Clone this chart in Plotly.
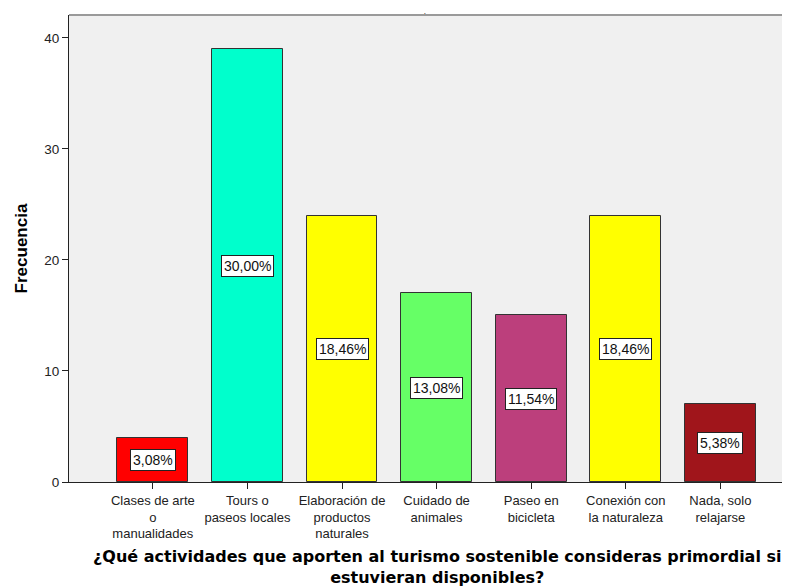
import plotly.graph_objects as go

categories = [
    "Clases de arte<br>o<br>manualidades",
    "Tours o<br>paseos locales",
    "Elaboración de<br>productos<br>naturales",
    "Cuidado de<br>animales",
    "Paseo en<br>bicicleta",
    "Conexión con<br>la naturaleza",
    "Nada, solo<br>relajarse",
]
frequencies = [4, 39, 24, 17, 15, 24, 7]
percent_labels = ["3,08%", "30,00%", "18,46%", "13,08%", "11,54%", "18,46%", "5,38%"]
bar_colors = ["#FF0000", "#00FFCC", "#FFFF00", "#66FF66", "#BC3F7C", "#FFFF00", "#A0151B"]
y_ticks = [0, 10, 20, 30, 40]
x_title = ("¿Qué actividades que aporten al turismo sostenible consideras primordial si"
           "<br>estuvieran disponibles?")

xs = list(range(len(categories)))

fig = go.Figure()
fig.add_trace(go.Bar(
    x=xs, y=frequencies, width=0.75,
    marker=dict(color=bar_colors, line=dict(color="#333333", width=1)),
    hoverinfo="skip",
))

for xi, v, lab in zip(xs, frequencies, percent_labels):
    fig.add_annotation(
        x=xi, y=v / 2, text=lab, showarrow=False,
        font=dict(family="Liberation Sans, Arial", size=14, color="#111111"),
        bgcolor="white", bordercolor="#222222", borderwidth=1, borderpad=2,
    )

# x axis title
fig.add_annotation(
    xref="paper", yref="paper", x=0.511, y=-0.182,
    xanchor="center", yanchor="middle", text=x_title, showarrow=False,
    font=dict(family="DejaVu Sans", size=16, color="#000000", weight="bold"),
)

# top border of the plot frame
fig.add_shape(type="line", xref="paper", yref="paper", x0=0, x1=1, y0=1, y1=1,
              line=dict(color="#9A9A9A", width=2))

# page body adds an 8px margin, so the figure is 8px smaller and shifted
fig.update_layout(
    width=782, height=578,
    margin=dict(l=61, r=0, t=7, b=104),
    paper_bgcolor="white", plot_bgcolor="#F0F0F0",
    showlegend=False,
    bargap=0,
    title=dict(text=".", x=0.533, xanchor="center", y=1.0, yanchor="top",
               pad=dict(t=0, b=0),
               font=dict(family="Liberation Sans, Arial", size=8, color="#000000")),
    xaxis=dict(
        automargin=False,
        range=[-0.886, 6.736],
        tickmode="array", tickvals=xs, ticktext=categories,
        ticks="outside", ticklen=6, tickcolor="#222222", tickwidth=1,
        showline=True, linecolor="#222222", linewidth=1,
        showgrid=False, zeroline=False,
        tickfont=dict(family="Liberation Sans, Arial", size=13, color="#222222"),
    ),
    yaxis=dict(
        automargin=False,
        range=[0, 42.07],
        tickmode="array", tickvals=y_ticks,
        ticks="outside", ticklen=6, tickcolor="#222222", tickwidth=1,
        showline=True, linecolor="#222222", linewidth=1,
        showgrid=False, zeroline=False,
        tickfont=dict(family="Liberation Sans, Arial", size=13.5, color="#222222"),
        title=dict(text="Frecuencia",
                   font=dict(family="Liberation Sans, Arial", size=17, color="#000000", weight="bold"),
                   standoff=12),
    ),
)

fig.write_html("out.html")
